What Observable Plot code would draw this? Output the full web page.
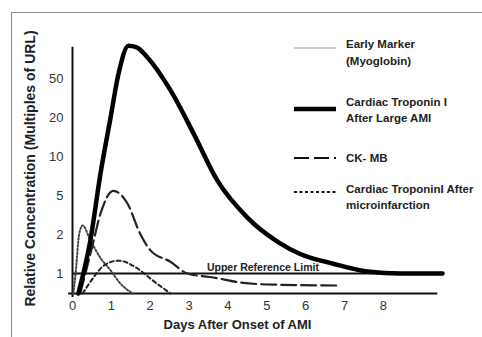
<!DOCTYPE html>
<html><head><meta charset="utf-8">
<script src="https://cdn.jsdelivr.net/npm/d3@7"></script>
<script src="https://cdn.jsdelivr.net/npm/@observablehq/plot@0.6"></script>
<style>
body{margin:0;background:#fff;font-family:"Liberation Sans",Arial,sans-serif;}
#wrap{position:relative;width:482px;height:337px;overflow:hidden;background:#fff;}
#frame{position:absolute;left:11px;top:12px;width:520px;height:400px;border:1.5px solid #8c8c8c;box-sizing:border-box;}
#chart{position:absolute;left:0;top:0;}
#legend{position:absolute;left:0;top:0;}
</style></head><body>
<div id="wrap"><div id="frame"></div><div id="chart"></div><svg id="legend" width="482" height="337"></svg></div>
<script>
// ---- data ----
const dayTicks = [0, 1, 2, 3, 4, 5, 6, 7, 8];
const yTicks = [1, 2, 5, 10, 20, 50];
const yBreaks = [0, 1, 2, 5, 10, 20, 50, 100];

const tropLargeDays = [0.15, 0.46, 0.72, 0.98, 1.18, 1.44, 1.65, 1.93, 2.52, 3.11, 3.73, 4.50, 5.30, 5.86, 6.71, 7.59, 8.44, 9.52];
const tropLargeVals = [0, 1.85, 7.8, 20, 55, 92, 90, 77, 41, 16, 6.9, 3.3, 1.8, 1.5, 1.25, 1.05, 1.0, 1.0];

const ckmbDays = [0.2, 0.51, 0.72, 1.05, 1.41, 1.75, 2.0, 2.52, 2.96, 3.63, 4.32, 5.02, 6.84];
const ckmbVals = [0, 1.7, 3.6, 5.6, 4.4, 2.0, 1.6, 1.3, 1.0, 0.8, 0.55, 0.45, 0.4];

const myoDays = [0.02, 0.08, 0.17, 0.26, 0.46, 0.72, 0.98, 1.23, 1.55];
const myoVals = [0, 1, 2.0, 2.7, 1.85, 1.4, 1.08, 0.5, 0];

const tropMicroDays = [0.26, 0.54, 0.8, 1.18, 1.67, 2.0, 2.52];
const tropMicroVals = [0, 0.8, 1.2, 1.33, 1.13, 0.75, 0];

const refLimit = 1;
const refLabel = "Upper Reference Limit";
const xTitle = "Days After Onset of AMI";
const yTitle = "Relative Concentration (Multiples of URL)";

const legendLabels = [
  ["Early Marker", "(Myoglobin)"],
  ["Cardiac Troponin I", "After Large AMI"],
  ["CK- MB"],
  ["Cardiac TroponinI After", "microinfarction"]
];

// ---- layout ----
const W = 482, H = 337;
const mLeft = 72, mRight = 40, mBottom = 44, mTop = 43;
const bottom = H - mBottom;
const step = 39;
const yRange = yBreaks.map((_, i) => i === 0 ? bottom : bottom - 20 - (i - 1) * step);

const pts = (xs, ys) => xs.map((d, i) => ({day: d, v: ys[i]}));
const tropLarge = pts(tropLargeDays, tropLargeVals);
const ckmb = pts(ckmbDays, ckmbVals);
const myo = pts(myoDays, myoVals);
const tropMicro = pts(tropMicroDays, tropMicroVals);

const chart = Plot.plot({
  width: W, height: H,
  marginLeft: mLeft, marginRight: mRight, marginTop: mTop, marginBottom: mBottom,
  style: {fontFamily: '"Liberation Sans", Arial, sans-serif', background: "transparent", overflow: "visible"},
  x: {domain: [0, 9.52], axis: null},
  y: {type: "linear", domain: yBreaks, range: yRange, axis: null},
  marks: [
    Plot.axisX(dayTicks, {anchor: "bottom", tickSize: 0, tickPadding: 7, fontSize: 13, fill: "#333", label: null}),
    Plot.axisY(yTicks, {anchor: "left", tickSize: 0, tickPadding: 9, fontSize: 13, fill: "#333", label: null}),
    Plot.ruleY([0], {x1: -0.1, x2: 9.4, stroke: "#111", strokeWidth: 2}),
    Plot.ruleX([0], {y1: -0.2, y2: 90, stroke: "#111", strokeWidth: 2}),
    Plot.ruleY([refLimit], {x1: 0, x2: 9.52, stroke: "#111", strokeWidth: 2}),
    Plot.text([refLabel], {x: 4.9, y: refLimit, dy: -6, text: d => d, fontSize: 10.5, fontWeight: "bold", fill: "#222"}),
    Plot.line(myo, {x: "day", y: "v", curve: "monotone-x", stroke: "#444", strokeWidth: 2, strokeDasharray: "1.6,2"}),
    Plot.line(tropMicro, {x: "day", y: "v", curve: "monotone-x", stroke: "#222", strokeWidth: 2, strokeDasharray: "4,3"}),
    Plot.line(ckmb, {x: "day", y: "v", curve: "monotone-x", stroke: "#222", strokeWidth: 2.2, strokeDasharray: "15,5"}),
    Plot.line(tropLarge, {x: "day", y: "v", curve: "monotone-x", stroke: "#000", strokeWidth: 4.5}),
    Plot.text([xTitle], {frameAnchor: "bottom", dx: -20, dy: 35, text: d => d, fontSize: 13, fontWeight: "bold", fill: "#222"}),
    Plot.text([yTitle], {frameAnchor: "left", textAnchor: "middle", dx: -42, rotate: -90, text: d => d, fontSize: 14, fontWeight: "bold", fill: "#222"})
  ]
});
document.getElementById("chart").appendChild(chart);

// ---- legend ----
const legendStyles = [
  {stroke: "#999", width: 1.2, dash: null, swY: 48, textY: [44, 61]},
  {stroke: "#000", width: 4.5, dash: null, swY: 109, textY: [102, 118]},
  {stroke: "#111", width: 2.2, dash: "15,5", swY: 158, textY: [158]},
  {stroke: "#111", width: 2, dash: "3,2.5", swY: 192, textY: [189, 205]}
];
const lg = d3.select("#legend");
legendLabels.forEach((lines, i) => {
  const s = legendStyles[i];
  lg.append("line").attr("x1", 294).attr("x2", 336).attr("y1", s.swY).attr("y2", s.swY)
    .attr("stroke", s.stroke).attr("stroke-width", s.width).attr("stroke-dasharray", s.dash);
  lines.forEach((t, j) => {
    lg.append("text").attr("x", 346).attr("y", s.textY[j]).attr("dy", "0.35em")
      .attr("font-size", 11.5).attr("font-weight", "bold").attr("fill", "#222")
      .attr("font-family", '"Liberation Sans", Arial, sans-serif').text(t);
  });
});
</script>
</body></html>
